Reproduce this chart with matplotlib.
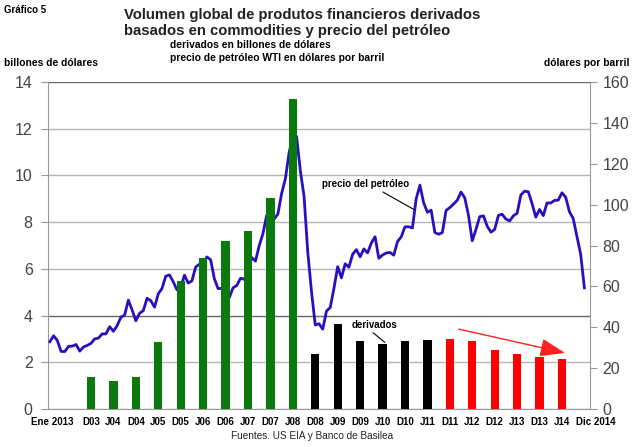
import matplotlib
matplotlib.use("Agg")
import matplotlib.pyplot as plt
from matplotlib.transforms import ScaledTranslation
import numpy as np

plt.rcParams['font.family'] = ['Liberation Sans', 'DejaVu Sans']

# Monthly WTI oil price, Jan 2003 .. Dec 2014 (USD per barrel)
oil_price = [
    32.95, 35.83, 33.51, 28.17, 28.11, 30.66, 30.75, 31.57, 28.31, 30.34, 31.11, 32.13,
    34.31, 34.69, 36.74, 36.75, 40.28, 38.03, 40.78, 44.90, 45.94, 53.28, 48.47, 43.15,
    46.84, 48.15, 54.19, 52.98, 49.83, 56.35, 59.00, 64.99, 65.59, 62.26, 58.32, 59.41,
    65.49, 61.63, 62.69, 69.44, 70.84, 70.95, 74.41, 73.04, 63.80, 58.89, 59.08, 61.96,
    54.51, 59.28, 60.44, 63.98, 63.46, 67.49, 74.12, 72.36, 79.92, 85.80, 94.77, 91.69,
    92.97, 95.39, 105.45, 112.58, 125.40, 133.88, 133.37, 116.67, 104.11, 76.61, 57.31, 41.12,
    41.71, 39.09, 47.94, 49.65, 59.03, 69.64, 64.15, 71.05, 69.41, 75.72, 77.99, 74.47,
    78.33, 76.39, 81.20, 84.29, 73.74, 75.34, 76.32, 76.60, 75.24, 81.89, 84.25, 89.15,
    89.17, 88.58, 102.86, 109.53, 100.90, 96.26, 97.30, 86.33, 85.52, 86.32, 97.16, 98.56,
    100.27, 102.20, 106.16, 103.32, 94.66, 82.30, 87.90, 94.13, 94.51, 89.49, 86.53, 87.86,
    94.76, 95.31, 92.94, 92.02, 94.51, 95.77, 104.67, 106.57, 106.29, 100.54, 93.86, 97.63,
    94.62, 100.82, 100.80, 102.07, 102.18, 105.79, 103.59, 96.54, 93.21, 84.40, 75.79, 59.29,
]

# Derivatives (billions USD), half-yearly
bar_labels = ["D03", "J04", "D04", "J05", "D05", "J06", "D06", "J07", "D07", "J08",
              "D08", "J09", "D09", "J10", "D10", "J11",
              "D11", "J12", "D12", "J13", "D13", "J14"]
bar_month = [11, 17, 23, 29, 35, 41, 47, 53, 59, 65,
             71, 77, 83, 89, 95, 101,
             107, 113, 119, 125, 131, 137]
bar_values = [1.38, 1.21, 1.38, 2.85, 5.47, 6.45, 7.19, 7.60, 9.05, 13.28,
              2.35, 3.62, 2.92, 2.80, 2.92, 2.95,
              2.98, 2.92, 2.51, 2.37, 2.21, 2.15]
bar_colors = ["#0b790b"] * 10 + ["#000000"] * 6 + ["#ff0000"] * 6

left_ticks = [0, 2, 4, 6, 8, 10, 12, 14]
right_ticks = [0, 20, 40, 60, 80, 100, 120, 140, 160]

fig = plt.figure(figsize=(6.4, 4.47), dpi=100)
ax = fig.add_axes([48/640, 1-409/447, 542/640, 327/447])
ax2 = ax.twinx()
ax3 = ax.twinx()

months = np.arange(len(oil_price))
xlim = (-0.5, 144.5)

# grid / left axis
ax.set_xlim(*xlim)
ax.set_ylim(0, 14)
ax.set_yticks(left_ticks)
ax.set_yticklabels([str(t) for t in left_ticks], fontsize=11.5, color="#444444")
for t in left_ticks:
    ax.axhline(t, color="#666666" if t in (4, 14) else "#b4b4b4", lw=1.0, zorder=0)
ax.tick_params(axis='y', length=5, color="#999999", pad=6)
x_ticks = [0.7] + bar_month + [144.5]
x_labels = ["Ene 2013"] + bar_labels + ["Dic 2014"]
ax.set_xticks(x_ticks)
ax.set_xticklabels(x_labels, fontsize=7, fontweight='bold')
ax.tick_params(axis='x', length=0, pad=6)
last = ax.get_xticklabels()[-1]
last.set_transform(last.get_transform() + ScaledTranslation(6/100, 0, fig.dpi_scale_trans))
ax.spines['top'].set_visible(False)
for s in ['left', 'right', 'bottom']:
    ax.spines[s].set_color("#999999")

# oil price line
ax2.set_xlim(*xlim)
ax2.set_ylim(0, 160)
ax2.plot(months, oil_price, color="#2a0fc0", lw=2.0, solid_joinstyle='round')
ax2.set_yticks(right_ticks)
ax2.set_yticklabels([str(t) for t in right_ticks], fontsize=11.5, color="#444444")
ax2.tick_params(axis='y', length=5, color="#999999", pad=4)
for s in ax2.spines.values():
    s.set_visible(False)

# bars on top
ax3.set_xlim(*xlim)
ax3.set_ylim(0, 14)
ax3.bar(bar_month, bar_values, width=2.2, color=bar_colors)
ax3.set_yticks([])
for s in ax3.spines.values():
    s.set_visible(False)

# annotations
ax2.annotate("precio del petróleo", xy=(97.5, 97.5), xytext=(84.5, 110),
             ha='center', va='center', fontsize=7, fontweight='bold',
             arrowprops=dict(arrowstyle='-', color='black', lw=0.8,
                             relpos=(0.62, 0.1), shrinkA=0, shrinkB=0))
ax3.annotate("derivados", xy=(89.6, 2.85), xytext=(86.8, 3.6),
             ha='center', va='center', fontsize=7, fontweight='bold',
             arrowprops=dict(arrowstyle='-', color='black', lw=0.8,
                             relpos=(0.4, 0.0), shrinkA=0, shrinkB=0))
ax3.annotate("", xy=(137.8, 2.4), xytext=(109.4, 3.42),
             arrowprops=dict(arrowstyle='-|>,head_length=1.1,head_width=0.4',
                             color='#ff2020', lw=1.0, mutation_scale=14,
                             shrinkA=0, shrinkB=0))

# texts
fig.text(4/640, 1-13/447, "Gráfico 5", fontsize=7, fontweight='bold', va='baseline')
fig.text(124/640, 1-19/447, "Volumen global de produtos financieros derivados",
         fontsize=10.7, fontweight='bold', va='baseline', color="#222222")
fig.text(124/640, 1-34.5/447, "basados en commodities y precio del petróleo",
         fontsize=10.7, fontweight='bold', va='baseline', color="#222222")
fig.text(170/640, 1-48.5/447, "derivados en billones de dólares",
         fontsize=7.4, fontweight='bold', va='baseline')
fig.text(170/640, 1-61/447, "precio de petróleo WTI en dólares por barril",
         fontsize=7.4, fontweight='bold', va='baseline')
fig.text(4/640, 1-66/447, "billones de dólares", fontsize=7.4, fontweight='bold',
         va='baseline')
fig.text(629/640, 1-66/447, "dólares por barril", fontsize=7.4, fontweight='bold',
         va='baseline', ha='right')
fig.text(312/640, 1-436/447, "Fuentes. US EIA y Banco de Basilea", fontsize=7.2,
         va='center', ha='center', color="#222222")

fig.savefig("out.png", dpi=100)
